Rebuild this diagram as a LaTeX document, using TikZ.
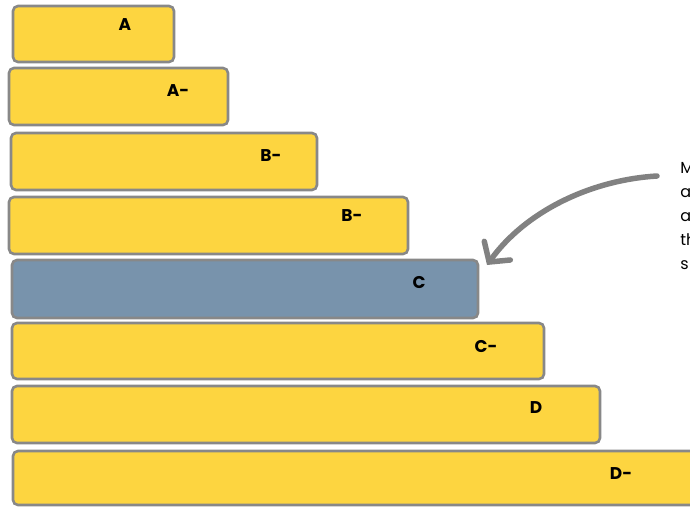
\documentclass[tikz,border=0pt]{standalone}
\usepackage{fontspec}
\setmainfont{Poppins}
\usepackage{xcolor}
\usetikzlibrary{arrows.meta,positioning}

\definecolor{barYellow}{HTML}{FDD540}
\definecolor{barBlue}{HTML}{7893AC}
\definecolor{edgeGray}{HTML}{888888}

\begin{document}
\begin{tikzpicture}[x=1pt,y=-1pt, line width=2.6pt,
    bar/.style={draw=edgeGray, fill=barYellow, rounded corners=5pt, inner sep=0pt},
    grade/.style={font=\fontsize{17}{20}\selectfont\bfseries, text=black, inner sep=0pt},
    note/.style={font=\fontsize{16}{24}\selectfont, align=left, anchor=north west, inner sep=0pt}]

    \useasboundingbox (0,0) rectangle (690,507);
    \clip (0,0) rectangle (690,507);

    % bars, top to bottom
    \draw[bar] (13,6) rectangle (174,62);
    \draw[bar] (9,68) rectangle (228,125);
    \draw[bar] (11,133) rectangle (317,190);
    \draw[bar] (9,197) rectangle (408,254);
    \draw[bar, fill=barBlue] (12,260) rectangle (478,318);
    \draw[bar] (12,323) rectangle (544,379);
    \draw[bar] (12,386) rectangle (600,443);
    \draw[bar] (13,451) rectangle (700,505);

    \coordinate (cTop) at (478,260);

    \node[grade] (gA)  at (125,25)  {A};
    \node[grade] (gAm) at (178,91)  {A-};
    \node[grade] (gBm) at (271,156) {B-};
    \node[grade] (gBmm) at (352,216) {B-};
    \node[grade] (gC)  at (419,282) {C};
    \node[grade] (gCm) at (486,346) {C-};
    \node[grade] (gD)  at (536,408) {D};
    \node[grade] (gDm) at (621,474) {D-};

    \node[note] (remark) at (679,161) {M\\a\\a\\th\\s};

    \coordinate (tail) at (657,176);
    \draw[edgeGray!95!black, line width=5.5pt, line cap=round,
          -{Straight Barb[length=14pt,width=32pt,line cap=round]}]
        (tail) .. controls (590,180) and (525,212) .. ([xshift=9pt,yshift=-5pt]cTop);
\end{tikzpicture}
\end{document}
